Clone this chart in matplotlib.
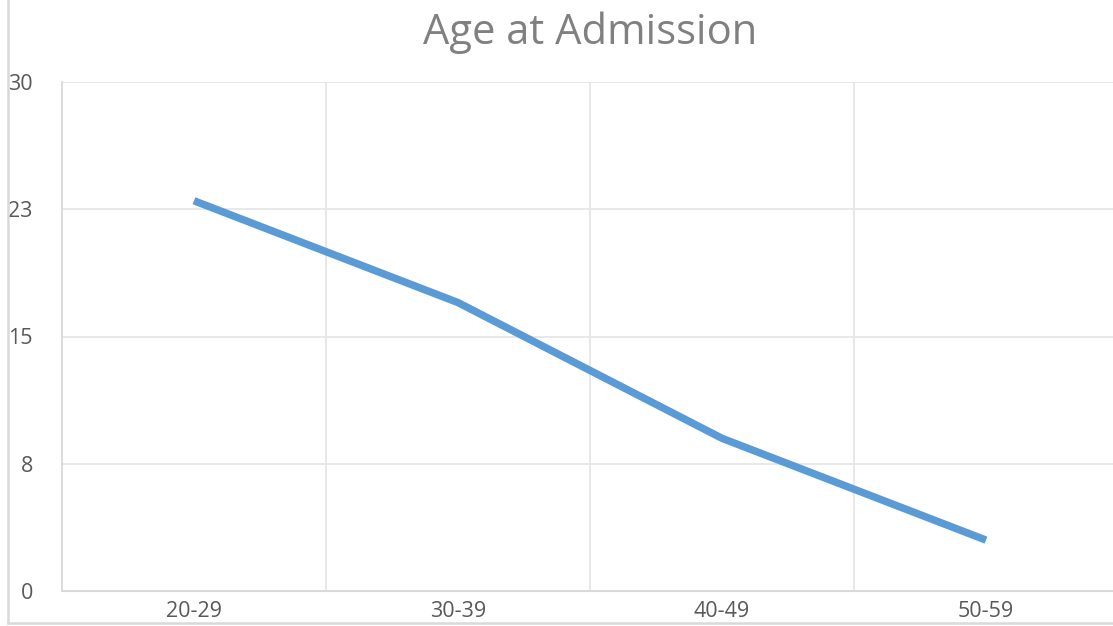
import matplotlib
matplotlib.use('Agg')
import matplotlib.pyplot as plt
from matplotlib.lines import Line2D

# data
age_groups = ['20-29', '30-39', '40-49', '50-59']
admissions = [23, 17, 9, 3]
y_ticks = [0, 7.5, 15, 22.5, 30]
y_tick_labels = ['0', '8', '15', '23', '30']

plt.rcParams['font.family'] = ['Open Sans', 'DejaVu Sans']

fig = plt.figure(figsize=(11.13, 6.26), dpi=100)
ax = fig.add_axes([62/1113, 35/626, 1056/1113, 509/626])

x = list(range(len(age_groups)))
ax.plot(x, admissions, color='#5B9BD5', lw=5.4, solid_capstyle='butt',
        solid_joinstyle='round', zorder=3)

ax.set_xlim(-0.5, len(age_groups) - 0.5)
ax.set_ylim(0, 30)
ax.set_xticks(x)
ax.set_xticklabels(age_groups)
ax.set_yticks(y_ticks)
ax.set_yticklabels(y_tick_labels)

# vertical grid between categories
ax.set_xticks([i + 0.5 for i in x[:-1]], minor=True)
ax.grid(axis='y', which='major', color='#E6E6E6', lw=1.3)
ax.grid(axis='x', which='minor', color='#E6E6E6', lw=1.3)
ax.tick_params(which='both', length=0)
ax.tick_params(axis='x', pad=7, labelsize=15.5, labelcolor='#595959')
ax.tick_params(axis='y', pad=21, labelsize=15.5, labelcolor='#595959')

for s in ['top', 'right']:
    ax.spines[s].set_visible(False)
ax.spines['left'].set_color('#D9D9D9')
ax.spines['bottom'].set_color('#D9D9D9')
ax.spines['left'].set_linewidth(1.3)
ax.spines['bottom'].set_linewidth(1.5)

fig.text(0.53, 1 - 33/626, 'Age at Admission', ha='center', va='center',
         fontsize=30, color='#808080')

# outer chart frame (partly cropped)
fig.add_artist(Line2D([8/1113, 8/1113], [3/626, 1.0], color='#D9D9D9', lw=1.8,
                      transform=fig.transFigure))
fig.add_artist(Line2D([8/1113, 1.0], [3/626, 3/626], color='#D9D9D9', lw=1.8,
                      transform=fig.transFigure))

fig.savefig('out.png', dpi=100)
